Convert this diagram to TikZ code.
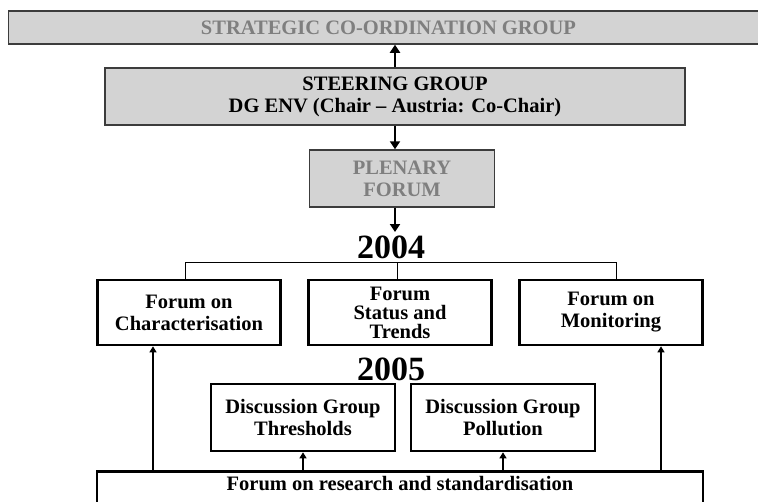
\documentclass[tikz,border=0pt]{standalone}
\usepackage{fontspec}
\setmainfont{Liberation Serif}
\usetikzlibrary{arrows.meta}
\definecolor{boxgray}{HTML}{D3D3D3}
\definecolor{edgegray}{HTML}{3C3C3C}
\definecolor{textgray}{HTML}{7F7F7F}
\tikzset{
  graybox/.style={draw=edgegray, fill=boxgray, line width=1.5pt, inner sep=0pt, align=center,
    font=\bfseries\fontsize{20.5}{22}\selectfont},
  whitebox/.style={draw=black, line width=2.6pt, inner sep=0pt, align=center,
    font=\bfseries\fontsize{20.5}{22}\selectfont},
  yearlabel/.style={font=\bfseries\fontsize{34}{34}\selectfont, inner sep=0pt},
  thickarrow/.style={line width=2pt, -{Triangle[length=8pt,width=10pt]}},
  thinarrow/.style={line width=1.2pt, -{Triangle[length=6pt,width=7pt]}},
  branch/.style={line width=1pt}
}
\begin{document}
\begin{tikzpicture}[x=1pt,y=-1pt]
\useasboundingbox (0,0) rectangle (758,501);
% hierarchy of coordination bodies
\node[graybox, minimum width=760pt, minimum height=33pt, text=textgray] (scg) at (388.5,27.5)
  {STRATEGIC CO-ORDINATION GROUP};
\node[graybox, minimum width=580pt, minimum height=57pt] (steer) at (395,96.5)
  {STEERING GROUP\\DG ENV (Chair -- Austria: Co-Chair)};
\node[graybox, minimum width=185pt, minimum height=57pt, text=textgray] (plen) at (402,178.5)
  {PLENARY\\FORUM};
\node[yearlabel] (y2004) at (391,247.5) {2004};
% forums of 2004
\node[whitebox, minimum width=183pt, minimum height=65pt] (char) at (189,312.5)
  {Forum on\\Characterisation};
\node[whitebox, minimum width=183pt, minimum height=65pt, font=\bfseries\fontsize{20.5}{19}\selectfont] (stat) at (400,312.5)
  {Forum\\Status and\\Trends};
\node[whitebox, minimum width=183pt, minimum height=65pt] (mon) at (611,312.5)
  {Forum on\\Monitoring};
\node[yearlabel] (y2005) at (391,369.5) {2005};
% discussion groups of 2005
\node[whitebox, minimum width=184pt, minimum height=67pt] (thr) at (303,417.5)
  {Discussion Group\\Thresholds};
\node[whitebox, minimum width=184pt, minimum height=67pt] (pol) at (503,417.5)
  {Discussion Group\\Pollution};
\node[whitebox, minimum width=606pt, minimum height=54pt, text height=19pt, text depth=35pt, anchor=north] (res) at (400,470)
  {Forum on research and standardisation};
% connectors
\draw[thickarrow] (steer.north -| 395,0) -- (scg.south -| 395,0);
\draw[thickarrow] (steer.south -| 395,0) -- (plen.north -| 395,0);
\draw[thickarrow] (plen.south -| 395,0) -- (395,232);
\coordinate (bar) at (0,262);
\draw[branch] (char.north -| 185,0) -- (bar -| 185,0) -- (bar -| 616,0) -- (mon.north -| 616,0);
\draw[branch] (bar -| 397,0) -- (stat.north -| 397,0);
\draw[thinarrow] (res.north -| 153,0) -- (char.south -| 153,0);
\draw[thinarrow] (res.north -| 661,0) -- (mon.south -| 661,0);
\draw[thinarrow] (res.north -| 303,0) -- (thr.south -| 303,0);
\draw[thinarrow] (res.north -| 503,0) -- (pol.south -| 503,0);
\end{tikzpicture}
\end{document}
